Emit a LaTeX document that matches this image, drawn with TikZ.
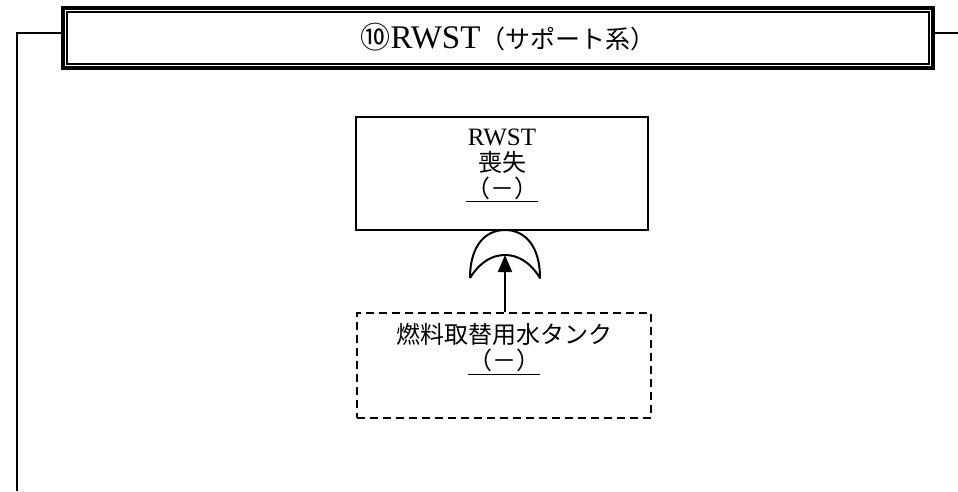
\documentclass[tikz,border=0pt]{standalone}
\usepackage{fontspec}
\setmainfont{Liberation Serif}
\newfontfamily\jp{Noto Sans CJK JP}
\usetikzlibrary{arrows.meta,calc}

\begin{document}
\begin{tikzpicture}[
    x=1pt, y=-1pt,
    font=\fontsize{25}{26}\selectfont,
    frame/.style={draw, line width=3.5pt, inner sep=0pt, minimum width=870pt, minimum height=60pt},
    box/.style={draw, line width=2pt, inner sep=0pt, minimum width=292pt, minimum height=113pt},
    basic/.style={draw, line width=2pt, dash pattern=on 8pt off 5pt, inner sep=0pt, minimum width=294pt, minimum height=105pt},
    txt/.style={align=center, inner sep=0pt},
    arr/.style={-{Triangle[length=17pt, width=14pt]}, line width=2pt},
    gate/.style={line width=2pt, line join=round}
]
\useasboundingbox (0,0) rectangle (958,491);

% Title frame
\node[frame] (title) at (498,38) {};
\draw[line width=2pt] ($(title.south west)+(6,-6)$) rectangle ($(title.north east)+(-6,6)$);
\node[txt] (titletxt) at (508,37) {{\jp\fontsize{30}{26}\selectfont ⑩}{\fontsize{33}{34}\selectfont RWST}{\jp\fontsize{25}{26}\selectfont （サポート系）}};

% Side lines
\coordinate (lcorner) at (17,33);
\coordinate (lend) at (17,491);
\coordinate (rend) at (958,33);
\draw[line width=2pt] (title.west |- lcorner) -- (lcorner) -- (lend);
\draw[line width=2pt] (title.east |- rend) -- (rend);

% Top event
\node[box] (rwst) at (502,173.5) {};
\node[txt] (rwsttxt) at (502,165) {RWST\\{\jp\fontsize{24}{26}\selectfont 喪失}\\{\jp\fontsize{24}{26}\selectfont\underline{（－）}}};

% OR gate
\coordinate (orgate) at (505,255);
\draw[gate] (470,278) .. controls (470,246) and (485,230) .. (505,230)
    .. controls (525,230) and (540,246) .. (540,278)
    .. controls (530,262) and (518,255) .. (orgate)
    .. controls (492,255) and (480,262) .. (470,278);

% Basic event
\node[basic] (tank) at (504,365.5) {};
\node[txt] (tanktxt) at (504,349) {{\jp\fontsize{24}{28}\selectfont 燃料取替用水タンク}\\{\jp\fontsize{24}{28}\selectfont\underline{（－）}}};

% Arrow
\draw[arr] (tank.north -| orgate) -- (orgate);

\end{tikzpicture}
\end{document}
